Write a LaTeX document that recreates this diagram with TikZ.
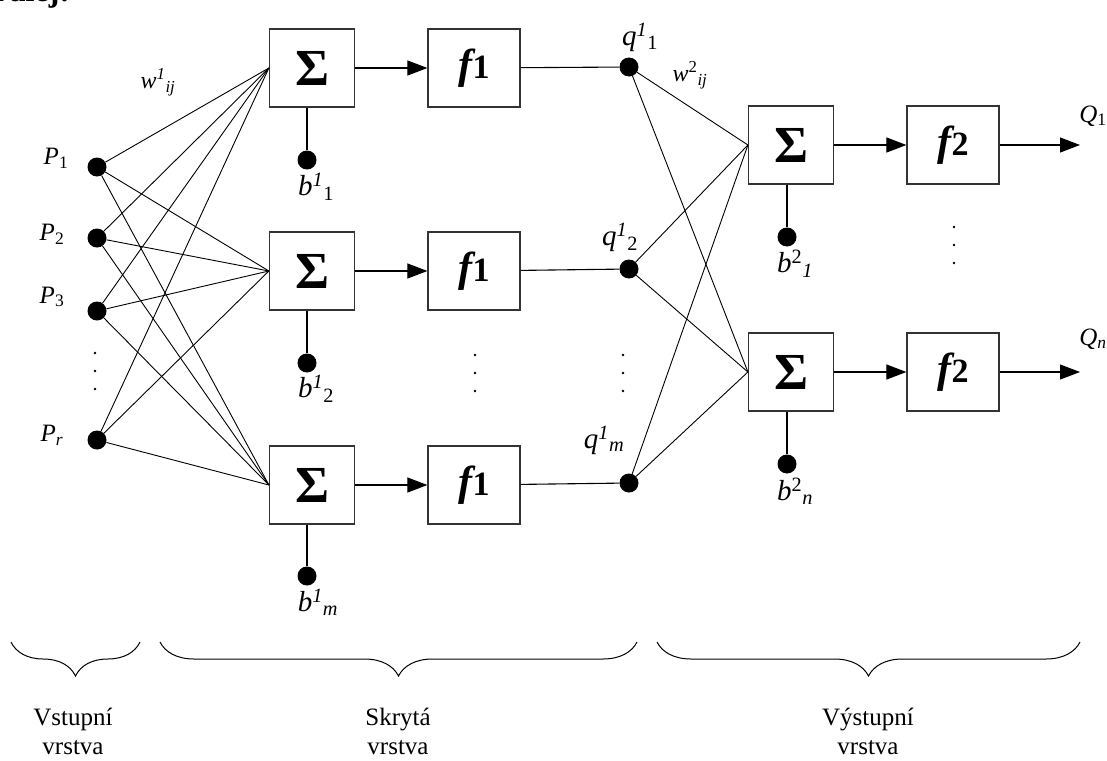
\documentclass[tikz,border=0pt]{standalone}
\usepackage{fontspec}
\setmainfont{Liberation Serif}
\usetikzlibrary{arrows.meta,positioning,calc,decorations.pathreplacing}
\tikzset{
  neuron/.style={circle, fill=black, minimum size=19pt, inner sep=0pt},
  sumbox/.style={
    draw=black!80, line width=1.2pt, minimum width=85pt, minimum height=78pt,
    inner sep=0pt, font=\fontsize{52}{52}\selectfont\bfseries
  },
  funbox/.style={sumbox, minimum width=92pt},
  weightlink/.style={line width=0.9pt},
  signallink/.style={line width=1.1pt, -{Triangle[length=20pt,width=15pt]}},
  biaslink/.style={line width=1.1pt},
  inlabel/.style={font=\fontsize{25}{25}\selectfont, inner sep=0pt},
  varlabel/.style={font=\fontsize{29}{29}\selectfont, inner sep=0pt},
  wlabel/.style={font=\fontsize{24}{24}\selectfont, inner sep=0pt},
  outlabel/.style={font=\fontsize{25}{25}\selectfont, inner sep=0pt},
  layerbrace/.style={decorate, decoration={brace, mirror, amplitude=34pt}, line width=1pt},
  layertext/.style={font=\fontsize{25}{29}\selectfont, align=center, inner sep=0pt}
}
\newcommand{\suplab}[3]{\textit{#1}\textsuperscript{#2}\textsubscript{#3}}
\newcommand{\funlab}[1]{{\fontsize{42}{42}\selectfont\bfseries\itshape f}{\fontsize{34}{34}\selectfont\bfseries #1}}
\begin{document}
\begin{tikzpicture}[x=1pt, y=-1pt]
\useasboundingbox (0,0) rectangle (1107,760);

% cut-off heading
\node[anchor=base west, inner sep=0pt, font=\fontsize{32}{32}\selectfont\bfseries] (heading) at (-14,2) {ďalej:};

% input layer
\node[neuron] (p1) at (97,167) {};
\node[neuron] (p2) at (97,238) {};
\node[neuron] (p3) at (97,311) {};
\node[neuron] (pr) at (97,440) {};
\node[inlabel] at (56,158) {\textit{P}\textsubscript{1}};
\node[inlabel] at (52,234) {\textit{P}\textsubscript{2}};
\node[inlabel] at (52,297) {\textit{P}\textsubscript{3}};
\node[inlabel] at (52,435) {\textit{P}\textsubscript{\textit{r}}};
\foreach \y in {353,371,389} \fill (95,\y) circle (1.4pt);

% hidden layer
\node[sumbox] (s1) at (312,68) {Σ};
\node[sumbox] (s2) at (312,271) {Σ};
\node[sumbox] (s3) at (312,485) {Σ};
\node[funbox] (f1) at (474,68) {\funlab{1}};
\node[funbox] (f2) at (474,271) {\funlab{1}};
\node[funbox] (f3) at (474,485) {\funlab{1}};
\node[neuron] (b1) at (307,160) {};
\node[neuron] (b2) at (307,363) {};
\node[neuron] (b3) at (307,576) {};
\node[varlabel] at (316,187) {\suplab{b}{\textit{1}}{1}};
\node[varlabel] at (316,389) {\suplab{b}{\textit{1}}{2}};
\node[varlabel] at (318,602) {\suplab{b}{\textit{1}}{\textit{m}}};
\node[neuron] (q1) at (629,67) {};
\node[neuron] (q2) at (629,269) {};
\node[neuron] (qm) at (629,483) {};
\node[varlabel] at (640,37) {\suplab{q}{\textit{1}}{1}};
\node[varlabel] at (620,237) {\suplab{q}{\textit{1}}{2}};
\node[varlabel] at (604,440) {\suplab{q}{\textit{1}}{\textit{m}}};
\node[wlabel] at (158,82) {\suplab{w}{\textit{1}}{\textit{ij}}};
\foreach \y in {355,373,391} {
  \fill (475,\y) circle (1.4pt);
  \fill (623,\y) circle (1.4pt);
}

% output layer
\node[sumbox] (t1) at (791,145) {Σ};
\node[sumbox] (t2) at (791,372) {Σ};
\node[funbox] (g1) at (953,145) {\funlab{2}};
\node[funbox] (g2) at (953,372) {\funlab{2}};
\node[neuron] (c1) at (787,237) {};
\node[neuron] (c2) at (787,464) {};
\node[varlabel] at (795,264) {\suplab{b}{2}{\textit{1}}};
\node[varlabel] at (795,491) {\suplab{b}{2}{\textit{n}}};
\node[wlabel] at (690,75) {\suplab{w}{2}{\textit{ij}}};
\coordinate (o1) at (1080,145);
\coordinate (o2) at (1080,372);
\node[outlabel] at (1093,116) {\textit{Q}\textsubscript{1}};
\node[outlabel] at (1093,339) {\textit{Q}\textsubscript{\textit{n}}};
\foreach \y in {227,245,263} \fill (954,\y) circle (1.4pt);

% weights
\foreach \src in {p1,p2,p3,pr}
  \foreach \dst in {s1,s2,s3}
    \draw[weightlink] (\src) -- (\dst.west);
\foreach \src in {q1,q2,qm}
  \foreach \dst in {t1,t2}
    \draw[weightlink] (\src) -- (\dst.west);

% signal flow
\draw[signallink] (s1) -- (f1);
\draw[signallink] (s2) -- (f2);
\draw[signallink] (s3) -- (f3);
\draw[biaslink] (f1) -- (q1);
\draw[biaslink] (f2) -- (q2);
\draw[biaslink] (f3) -- (qm);
\draw[signallink] (t1) -- (g1);
\draw[signallink] (t2) -- (g2);
\draw[signallink] (g1) -- (o1);
\draw[signallink] (g2) -- (o2);
\draw[biaslink] (b1) -- (b1 |- s1.south);
\draw[biaslink] (b2) -- (b2 |- s2.south);
\draw[biaslink] (b3) -- (b3 |- s3.south);
\draw[biaslink] (c1) -- (c1 |- t1.south);
\draw[biaslink] (c2) -- (c2 |- t2.south);

% layers
\draw[layerbrace] (11,642) -- (140,642);
\draw[layerbrace] (160,642) -- (637,642);
\draw[layerbrace] (657,642) -- (1080,642);
\node[layertext] (inlayer) at (73,731) {Vstupní\\vrstva};
\node[layertext] (hidlayer) at (398,731) {Skrytá\\vrstva};
\node[layertext] (outlayer) at (868,731) {Výstupní\\vrstva};

\end{tikzpicture}
\end{document}
